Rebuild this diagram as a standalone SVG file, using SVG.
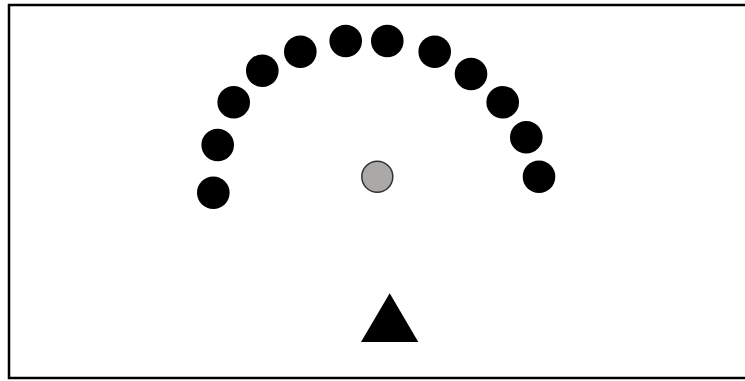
<svg xmlns="http://www.w3.org/2000/svg" width="745" height="381" viewBox="0 0 745 381">
<style>
.dot{fill:#000;}
.center{fill:#aba9a8;stroke:#333;stroke-width:1.5;}
.frame{fill:#fff;stroke:#000;stroke-width:2.5;}
</style>
<rect x="0" y="0" width="745" height="381" fill="#fff"/>
<rect class="frame" x="9" y="5" width="745" height="373"/>
<g id="arc">
<circle class="dot" cx="213.3" cy="192.7" r="16.3"/>
<circle class="dot" cx="217.7" cy="145" r="16.3"/>
<circle class="dot" cx="233.7" cy="102.3" r="16.3"/>
<circle class="dot" cx="262.3" cy="70.7" r="16.3"/>
<circle class="dot" cx="300.3" cy="51.7" r="16.3"/>
<circle class="dot" cx="345.7" cy="41" r="16.3"/>
<circle class="dot" cx="387.3" cy="41" r="16.3"/>
<circle class="dot" cx="434.7" cy="51.7" r="16.3"/>
<circle class="dot" cx="471" cy="74" r="16.3"/>
<circle class="dot" cx="502.7" cy="102.3" r="16.3"/>
<circle class="dot" cx="526.3" cy="137.3" r="16.3"/>
<circle class="dot" cx="539" cy="176.7" r="16.3"/>
</g>
<g id="center">
<circle class="center" cx="377.3" cy="176.7" r="15.5"/>
</g>
<g id="triangle">
<polygon points="389.7,293.3 361,342 418.3,342" fill="#000"/>
</g>
</svg>
